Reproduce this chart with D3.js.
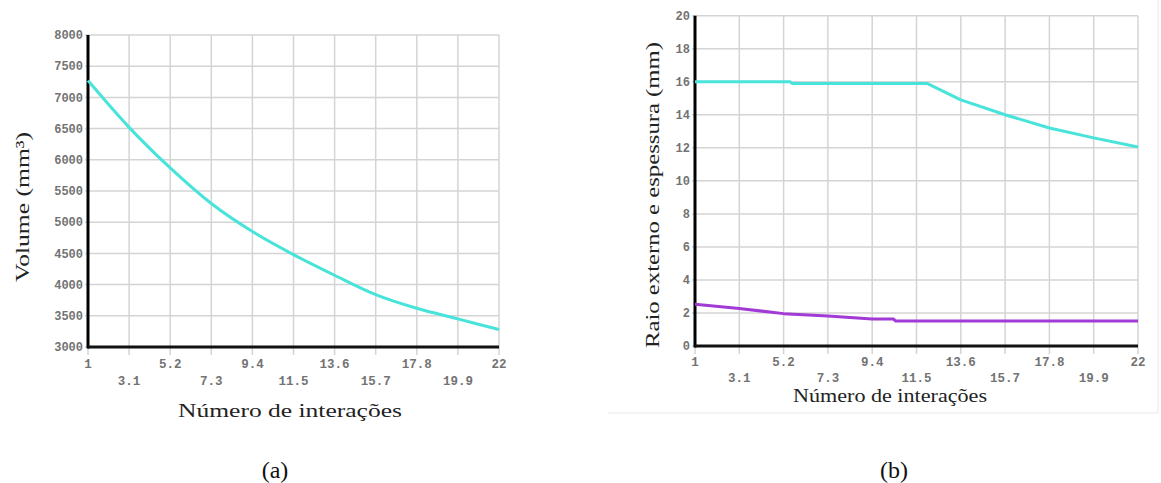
<!doctype html>
<meta charset="utf-8">
<script src="https://d3js.org/d3.v7.min.js"></script>
<style>
body{margin:0;background:#fff;}
</style>
<body>
</body>
<script>
//*****************
// data
var xTicks = [1,3.1,5.2,7.3,9.4,11.5,13.6,15.7,17.8,19.9,22];
var volTicks = [3000,3500,4000,4500,5000,5500,6000,6500,7000,7500,8000];
var raioTicks = [0,2,4,6,8,10,12,14,16,18,20];

// (a) volume
var volX = [1,3.1,5.2,7.3,9.4,11.5,13.6,15.7,17.8,19.9,22];
var volY = [7270,6520,5870,5300,4850,4480,4150,3840,3620,3450,3280];

// (b) raio externo (cyan) and espessura (purple)
var raioX = [1,5.5,5.6,12,13.6,15.7,17.8,19.9,22];
var raioY = [16,16,15.9,15.9,14.9,14.0,13.2,12.6,12.05];
var espX = [1,3.1,5.2,7.3,9.4,10.4,10.5,22];
var espY = [2.53,2.27,1.96,1.82,1.64,1.64,1.52,1.52];
//*****************

var cyan = "#48e3da";
var purple = "#a23ad6";
var gridColor = "#d4d4d4";
var monoFont = "'Liberation Mono','DejaVu Sans Mono',monospace";
var serifFont = "'Liberation Serif','DejaVu Serif',serif";

var svg = d3.select("body").append("svg")
    .attr("width",1161).attr("height",483);

// faint frame around panel (b) picture
svg.append("line").attr("x1",608).attr("x2",1158).attr("y1",413).attr("y2",413)
    .attr("stroke","#f1f1f1").attr("stroke-width",1.5);
svg.append("line").attr("x1",1158).attr("x2",1158).attr("y1",0).attr("y2",413)
    .attr("stroke","#f1f1f1").attr("stroke-width",1.5);

function panel(opt){
    var x = d3.scaleLinear().domain([1,22]).range(opt.xr);
    var y = d3.scaleLinear().domain(opt.yd).range(opt.yr);
    var g = svg.append("g");

    // grid
    g.selectAll(".vg").data(xTicks).enter().append("line")
        .attr("x1",function(d){return x(d);}).attr("x2",function(d){return x(d);})
        .attr("y1",opt.yr[1]).attr("y2",opt.yr[0] + 8)
        .attr("stroke",gridColor).attr("stroke-width",1.5);
    g.selectAll(".hg").data(opt.yTicks).enter().append("line")
        .attr("x1",opt.xr[0] - 3).attr("x2",opt.xr[1])
        .attr("y1",function(d){return y(d);}).attr("y2",function(d){return y(d);})
        .attr("stroke",gridColor).attr("stroke-width",1.5);

    // axes (left and bottom, thick black)
    g.append("line").attr("x1",opt.xr[0]).attr("x2",opt.xr[0])
        .attr("y1",opt.yr[1]).attr("y2",opt.yr[0] + 1.5)
        .attr("stroke","#000").attr("stroke-width",3);
    g.append("line").attr("x1",opt.xr[0]).attr("x2",opt.xr[1])
        .attr("y1",opt.yr[0]).attr("y2",opt.yr[0])
        .attr("stroke","#111").attr("stroke-width",3);

    // y tick labels
    g.selectAll(".yl").data(opt.yTicks).enter().append("text")
        .attr("x",opt.xr[0] - 5).attr("y",function(d){return y(d);})
        .attr("dy","0.35em").attr("text-anchor","end")
        .style("font-family",monoFont).style("font-size","12px").style("font-weight","bold")
        .attr("fill","#737373")
        .text(function(d){return d;});

    // x tick labels, alternating rows
    g.selectAll(".xl").data(xTicks).enter().append("text")
        .attr("x",function(d){return x(d);})
        .attr("y",function(d,i){return i%2==0 ? opt.row1 : opt.row2;})
        .attr("text-anchor","middle")
        .style("font-family",monoFont).style("font-size","12.5px").style("font-weight","bold")
        .attr("fill","#737373")
        .text(function(d){return d;});

    // series
    var line = d3.line()
        .x(function(d){return x(d[0]);})
        .y(function(d){return y(d[1]);});
    opt.series.forEach(function(s){
        var pts = s.xs.map(function(v,i){return [v,s.ys[i]];});
        g.append("path")
            .attr("d", s.smooth ? line.curve(d3.curveMonotoneX)(pts) : line.curve(d3.curveLinear)(pts))
            .attr("fill","none").attr("stroke",s.color).attr("stroke-width",3)
            .attr("stroke-linejoin","round");
    });

    // axis titles
    g.append("text")
        .attr("transform","translate(" + opt.ytPos[0] + "," + opt.ytPos[1] + ") rotate(-90)")
        .attr("text-anchor","middle").attr("dy","0.35em")
        .attr("textLength",opt.ytLen).attr("lengthAdjust","spacingAndGlyphs")
        .style("font-family",serifFont).style("font-size","19px")
        .attr("fill","#222")
        .text(opt.yTitle);
    g.append("text")
        .attr("x",opt.xtPos[0]).attr("y",opt.xtPos[1])
        .attr("text-anchor","middle")
        .attr("textLength",opt.xtLen).attr("lengthAdjust","spacingAndGlyphs")
        .style("font-family",serifFont).style("font-size","19px")
        .attr("fill","#222")
        .text("Número de interações");
    g.append("text")
        .attr("x",opt.tag[0]).attr("y",opt.tag[1])
        .attr("text-anchor","middle")
        .style("font-family",serifFont).style("font-size","24px")
        .attr("fill","#111")
        .text(opt.tagText);
}

panel({
    xr:[88,499], yd:[3000,8000], yr:[347,35], yTicks:volTicks,
    row1:368, row2:385,
    series:[{xs:volX, ys:volY, color:cyan, smooth:true}],
    yTitle:"Volume (mm³)", ytPos:[22,207], ytLen:150,
    xtPos:[290,417], xtLen:224,
    tag:[275,478], tagText:"(a)"
});

panel({
    xr:[695,1138], yd:[0,20], yr:[346,15.7], yTicks:raioTicks,
    row1:366, row2:382,
    series:[{xs:raioX, ys:raioY, color:cyan, smooth:false},
            {xs:espX, ys:espY, color:purple, smooth:false}],
    yTitle:"Raio externo e espessura (mm)", ytPos:[652,195], ytLen:306,
    xtPos:[890,402], xtLen:194,
    tag:[894,478], tagText:"(b)"
});
</script>
